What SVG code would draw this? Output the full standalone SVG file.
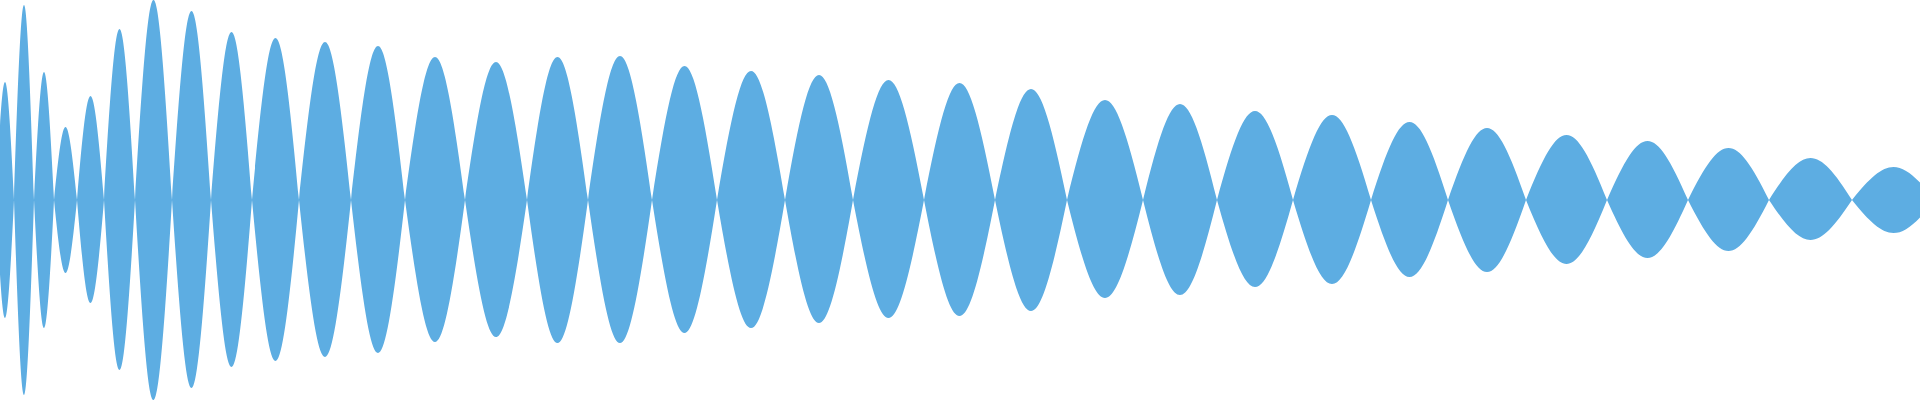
<svg xmlns="http://www.w3.org/2000/svg" width="1920" height="400" viewBox="0 0 1920 400">
<style>.wave{fill:#5dade2;stroke:none}</style>
<rect width="1920" height="400" fill="#ffffff"/>
<g id="waveform">
<path class="wave" d="M -4 200
c 7.6,-157.3 10.4,-157.3 18,0
c 8.5,-260 11.5,-260 20,0
c 8.5,-170.7 11.5,-170.7 20,0
c 9.8,-97.3 13.2,-97.3 23,0
c 11.4,-138.7 15.6,-138.7 27,0
c 13.1,-228 17.9,-228 31,0
c 15.7,-266.7 21.3,-266.7 37,0
c 16.5,-252 22.5,-252 39,0
c 17.4,-224 23.6,-224 41,0
c 19.9,-216 27.1,-216 47,0
c 22,-210.7 30,-210.7 52,0
c 22.9,-205.3 31.1,-205.3 54,0
c 25.4,-190.7 34.6,-190.7 60,0
c 26.3,-184 35.7,-184 62,0
c 25.9,-190.7 35.1,-190.7 61,0
c 27.1,-192 36.9,-192 64,0
c 27.6,-178.7 37.4,-178.7 65,0
c 28.8,-172 39.2,-172 68,0
c 28.8,-166.7 39.2,-166.7 68,0
c 30.1,-160 40.9,-160 71,0
c 30.1,-156 40.9,-156 71,0
c 30.5,-148 41.5,-148 72,0
c 32.2,-133.3 43.8,-133.3 76,0
c 31.4,-128 42.6,-128 74,0
c 32.2,-118.7 43.8,-118.7 76,0
c 33.1,-113.3 44.9,-113.3 78,0
c 32.6,-104 44.4,-104 77,0
c 33.1,-96 44.9,-96 78,0
c 34.3,-86.7 46.7,-86.7 81,0
c 34.3,-78.7 46.7,-78.7 81,0
c 34.3,-69.3 46.7,-69.3 81,0
c 35.2,-56 47.8,-56 83,0
c 35.2,-44 47.8,-44 83,0
c -35.2,44 -47.8,44 -83,0
c -35.2,53.3 -47.8,53.3 -83,0
c -34.3,68 -46.7,68 -81,0
c -34.3,77.3 -46.7,77.3 -81,0
c -34.3,85.3 -46.7,85.3 -81,0
c -33.1,96 -44.9,96 -78,0
c -32.6,102.7 -44.4,102.7 -77,0
c -33.1,112 -44.9,112 -78,0
c -32.2,116 -43.8,116 -76,0
c -31.4,126.7 -42.6,126.7 -74,0
c -32.2,130.7 -43.8,130.7 -76,0
c -30.5,148 -41.5,148 -72,0
c -30.1,154.7 -40.9,154.7 -71,0
c -30.1,157.3 -40.9,157.3 -71,0
c -28.8,164 -39.2,164 -68,0
c -28.8,170.7 -39.2,170.7 -68,0
c -27.6,177.3 -37.4,177.3 -65,0
c -27.1,190.7 -36.9,190.7 -64,0
c -25.9,190.7 -35.1,190.7 -61,0
c -26.3,182.7 -35.7,182.7 -62,0
c -25.4,189.3 -34.6,189.3 -60,0
c -22.9,204 -31.1,204 -54,0
c -22,209.3 -30,209.3 -52,0
c -19.9,214.7 -27.1,214.7 -47,0
c -17.4,222.7 -23.6,222.7 -41,0
c -16.5,250.7 -22.5,250.7 -39,0
c -15.7,266.7 -21.3,266.7 -37,0
c -13.1,226.7 -17.9,226.7 -31,0
c -11.4,137.3 -15.6,137.3 -27,0
c -9.8,97.3 -13.2,97.3 -23,0
c -8.5,170.7 -11.5,170.7 -20,0
c -8.5,260 -11.5,260 -20,0
c -7.6,157.3 -10.4,157.3 -18,0 Z"/>
</g>
</svg>
